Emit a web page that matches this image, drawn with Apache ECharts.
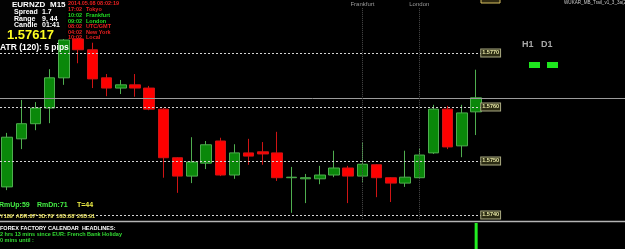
<!DOCTYPE html>
<html>
<head>
<meta charset="utf-8">
<script src="https://cdn.jsdelivr.net/npm/echarts@6/dist/echarts.min.js"></script>
<style>
  html, body { margin: 0; padding: 0; background: #000; }
  #chart { width: 625px; height: 249px; }
</style>
</head>
<body>
<div id="chart"></div>
<script>
// EURNZD M15, London time of each bar
var times = ['00:45', '01:00', '01:15', '01:30', '01:45', '02:00', '02:15', '02:30', '02:45',
  '03:00', '03:15', '03:30', '03:45', '04:00', '04:15', '04:30', '04:45', '05:00', '05:15',
  '05:30', '05:45', '06:00', '06:15', '06:30', '06:45', '07:00', '07:15', '07:30', '07:45',
  '08:00', '08:15', '08:30', '08:45', '09:00'];

// [open, close, low, high]
var candles = [
  [1.57452, 1.57544, 1.57446, 1.57552],
  [1.57541, 1.57569, 1.57522, 1.57613],
  [1.57569, 1.57598, 1.57557, 1.57609],
  [1.57598, 1.57654, 1.57570, 1.57670],
  [1.57654, 1.57724, 1.57641, 1.57733],
  [1.57726, 1.57706, 1.57681, 1.57730],
  [1.57706, 1.57652, 1.57635, 1.57719],
  [1.57654, 1.57635, 1.57620, 1.57661],
  [1.57635, 1.57641, 1.57624, 1.57650],
  [1.57641, 1.57635, 1.57619, 1.57661],
  [1.57635, 1.57596, 1.57594, 1.57639],
  [1.57596, 1.57506, 1.57469, 1.57598],
  [1.57506, 1.57472, 1.57441, 1.57507],
  [1.57472, 1.57498, 1.57459, 1.57544],
  [1.57496, 1.57530, 1.57485, 1.57537],
  [1.57537, 1.57474, 1.57472, 1.57543],
  [1.57474, 1.57515, 1.57467, 1.57531],
  [1.57515, 1.57509, 1.57493, 1.57541],
  [1.57517, 1.57513, 1.57493, 1.57535],
  [1.57515, 1.57469, 1.57463, 1.57554],
  [1.57469, 1.57470, 1.57404, 1.57489],
  [1.57467, 1.57469, 1.57422, 1.57476],
  [1.57467, 1.57474, 1.57457, 1.57491],
  [1.57474, 1.57487, 1.57470, 1.57519],
  [1.57487, 1.57472, 1.57422, 1.57491],
  [1.57472, 1.57494, 1.57461, 1.57535],
  [1.57493, 1.57469, 1.57433, 1.57494],
  [1.57469, 1.57459, 1.57424, 1.57470],
  [1.57459, 1.57470, 1.57452, 1.57519],
  [1.57469, 1.57511, 1.57467, 1.57524],
  [1.57515, 1.57596, 1.57513, 1.57604],
  [1.57596, 1.57526, 1.57522, 1.57602],
  [1.57528, 1.57589, 1.57507, 1.57604],
  [1.57591, 1.57617, 1.57548, 1.57669]
];

var levels = [1.5770, 1.5760, 1.5750, 1.5740];
var bid = 1.57617;
var sessions = [
  { name: 'Frankfurt', at: '07:00' },
  { name: 'London', at: '08:00' }
];
// indicator in the lower window, only the last bar is drawn
var volume = ['-', '-', '-', '-', '-', '-', '-', '-', '-', '-', '-', '-', '-', '-', '-', '-', '-',
  '-', '-', '-', '-', '-', '-', '-', '-', '-', '-', '-', '-', '-', '-', '-', '-', 27];

var clock = [
  ['2014.05.08 08:02:19', '', '#e82020'],
  ['17:02', 'Tokyo', '#e82020'],
  ['10:02', 'Frankfurt', '#22dd22'],
  ['09:02', 'London', '#22dd22'],
  ['08:02', 'UTC/GMT', '#e82020'],
  ['04:02', 'New York', '#e82020'],
  ['10:02', 'Local', '#e82020']
];

var yMin = 1.573907, yMax = 1.577981;
var FONT = '"Liberation Sans", Arial, sans-serif';

var chart = echarts.init(document.getElementById('chart'));

function txt(x, y, s, size, color, weight) {
  return {
    type: 'text', x: x, y: y, z: 100,
    style: {
      text: s, fill: color, font: (weight || 'bold') + ' ' + size + 'px ' + FONT,
      verticalAlign: 'middle'
    }
  };
}

var graphics = [
  { type: 'rect', z: 90, shape: { x: 0, y: 0, width: 66, height: 39 }, style: { fill: '#030303' } },
  { type: 'rect', z: 90, shape: { x: 66, y: 0, width: 70, height: 38 }, style: { fill: '#000' } },
  txt(12, 5, 'EURNZD', 8, '#ffffff'),
  txt(50, 5, 'M15', 8, '#ffffff'),
  txt(14, 12, 'Spread', 7, '#ffffff'), txt(42, 12, '1.7', 7, '#ffffff'),
  txt(14, 19, 'Range', 7, '#ffffff'), txt(42, 19, '9, 44', 7, '#ffffff'),
  txt(14, 25, 'Candle', 7, '#ffffff'), txt(42, 25, '01:41', 7, '#ffffff'),
  txt(7, 35, '1.57617', 13, '#ffff22'),
  txt(0, 48, 'ATR (120): 5 pips', 8.5, '#ffffff'),
  txt(522, 45, 'H1', 9, '#a8a8a8'),
  txt(541, 45, 'D1', 9, '#a8a8a8'),
  { type: 'rect', z: 100, shape: { x: 529, y: 62, width: 11, height: 6 }, style: { fill: '#1ee61e' } },
  { type: 'rect', z: 100, shape: { x: 547, y: 62, width: 11, height: 6 }, style: { fill: '#1ee61e' } },
  txt(564, 3, 'WUKAR_MB_Trail_v1_3_3a(2)', 4.6, '#c8c8c8', 'normal'),
  { type: 'rect', z: 100, shape: { x: 481, y: -4, width: 19, height: 7 }, style: { fill: '#302a10', stroke: '#d8c060', lineWidth: 1 } },
  txt(-1, 205, 'RmUp:59', 7, '#44ee44'),
  txt(37, 205, 'RmDn:71', 7, '#44ee44'),
  txt(77, 205, 'T=44', 7, '#eeee44'),
  txt(0, 216, "Y189' ADR:87' 5D:79' 10D:88' 20D:91", 5.5, '#e8e060'),
  { type: 'line', z: 100, shape: { x1: 0, y1: 221.5, x2: 625, y2: 221.5 }, style: { stroke: '#b4b4b4', lineWidth: 1.5 } },
  txt(0, 228, 'FOREX FACTORY CALENDAR  HEADLINES:', 5.5, '#ffffff'),
  txt(0, 234, '2 hrs 13 mins since EUR: French Bank Holiday', 5.5, '#33dd33'),
  txt(0, 240, '0 mins until :', 5.5, '#33dd33')
];
clock.forEach(function (c, i) {
  var y = [3, 9, 15, 21, 26, 32, 37][i];
  graphics.push(txt(68, y, c[0], 5.5, c[2]));
  if (c[1]) graphics.push(txt(86, y, c[1], 5.5, c[2]));
});

var marks = levels.map(function (v) {
  return {
    yAxis: v,
    lineStyle: { color: '#d4d4d4', type: [2, 2], width: 1 },
    label: {
      show: true, position: 'end', distance: -2, formatter: v.toFixed(4),
      color: '#e8e8a8', fontSize: 5.5, fontFamily: FONT, fontWeight: 'bold',
      backgroundColor: '#2c2c14', borderColor: '#a8a880', borderWidth: 1, padding: [1, 1, 0, 1]
    }
  };
});
sessions.forEach(function (s) {
  marks.push([
    {
      xAxis: s.at, yAxis: 1.57783,
      lineStyle: { color: '#4a4a4a', type: 'dotted', width: 1 },
      label: { show: true, position: 'start', distance: 1, formatter: s.name, color: '#9a9a9a', fontSize: 6, fontFamily: FONT }
    },
    { xAxis: s.at, yAxis: yMin }
  ]);
});

var option = {
  backgroundColor: '#000',
  animation: false,
  grid: [
    { left: -9.75, width: 493, top: 0, bottom: 29 },
    { left: 0, right: 0, top: 0, bottom: 29 },
    { left: -9.75, width: 493, top: 223, bottom: 0 }
  ],
  xAxis: [
    { type: 'category', data: times, gridIndex: 0, show: false },
    { type: 'value', gridIndex: 1, min: 0, max: 1, show: false },
    { type: 'category', data: times, gridIndex: 2, show: false }
  ],
  yAxis: [
    { type: 'value', gridIndex: 0, min: yMin, max: yMax, show: false },
    { type: 'value', gridIndex: 1, min: yMin, max: yMax, show: false },
    { type: 'value', gridIndex: 2, min: 0, max: 27, show: false }
  ],
  series: [
    {
      type: 'line', xAxisIndex: 1, yAxisIndex: 1, data: [],
      markLine: {
        symbol: 'none', silent: true, animation: false, precision: 5,
        label: { show: false },
        lineStyle: { color: '#9c9c9c', type: 'solid', width: 1 },
        data: [{ yAxis: bid }]
      }
    },
    {
      type: 'candlestick', xAxisIndex: 0, yAxisIndex: 0,
      data: candles, barWidth: 11,
      itemStyle: {
        color: '#0a880a', color0: '#ff0000',
        borderColor: '#4fae4f', borderColor0: '#d01414', borderWidth: 1
      },
      markLine: {
        symbol: 'none', silent: true, animation: false, precision: 5,
        data: marks
      }
    },
    {
      type: 'bar', xAxisIndex: 2, yAxisIndex: 2,
      data: volume, barWidth: 3,
      itemStyle: { color: '#22ee22' }
    }
  ],
  graphic: graphics
};

chart.setOption(option);
window.addEventListener('resize', function () { chart.resize(); });
</script>
</body>
</html>
